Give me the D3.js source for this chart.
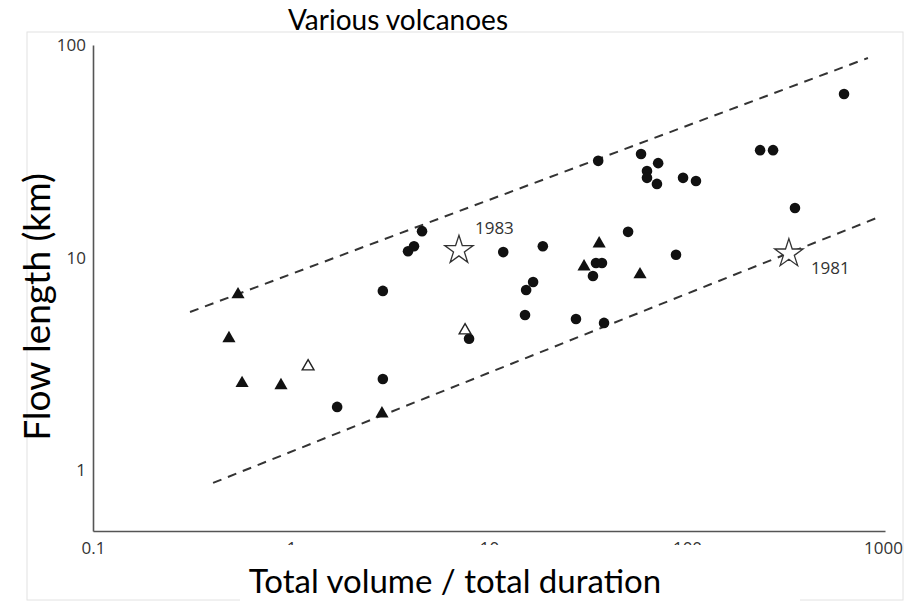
<!DOCTYPE html>
<html>
<head>
<meta charset="utf-8">
<script src="https://cdn.jsdelivr.net/npm/d3@7"></script>
<style>
  html, body { margin: 0; padding: 0; background: #fff; }
  svg { display: block; }
</style>
</head>
<body>
<svg id="chart" width="906" height="602"></svg>
<script>
// ---- data ----
const xTickValues = [0.1, 1, 10, 100, 1000];
const yTickValues = [1, 10, 100];

// filled circles: [volume rate, flow length]
const circlePoints = [
  [1.71, 1.98], [2.91, 2.68], [2.91, 6.96], [3.90, 10.7], [4.18, 11.3],
  [4.59, 13.3], [7.93, 4.15], [11.8, 10.6], [18.7, 11.3], [16.7, 7.67],
  [15.4, 7.03], [15.2, 5.36], [27.5, 5.13], [38.1, 4.92], [33.5, 8.18],
  [34.7, 9.42], [37.2, 9.42], [50.4, 13.2], [35.6, 28.5], [58.6, 30.7],
  [71.5, 27.8], [62.8, 25.5], [62.8, 23.7], [70.5, 22.2], [95.5, 23.7],
  [111, 22.9], [88, 10.3], [234, 32], [272, 32], [351, 17.1], [621, 58.8]
];
// filled triangles
const filledTriangles = [
  [0.54, 6.8], [0.486, 4.23], [0.566, 2.6], [0.89, 2.54], [2.88, 1.87],
  [30.2, 9.2], [36.0, 11.8], [57.9, 8.45]
];
// open triangles
const openTriangles = [[1.22, 3.12], [7.57, 4.61]];
// stars with year labels
const starPoints = [[7.05, 11.0], [327, 10.6]];
const starLabels = ["1983", "1981"];
// dashed envelope lines
const upperLine = [[0.309, 5.54], [820, 86.9]];
const lowerLine = [[0.404, 0.869], [933, 15.5]];

const titleText = "Various volcanoes";
const xTitle = "Total volume / total duration";
const yTitle = "Flow length (km)";

// ---- drawing ----
const svg = d3.select("#chart");
const x = d3.scaleLog().domain([0.1, 1000]).range([93, 885]);
const y = d3.scaleLog().domain([0.516, 100]).range([531, 45]);

// faint frame of the original figure
svg.append("rect").attr("x", 27).attr("y", 32).attr("width", 876).attr("height", 568)
  .attr("fill", "none").attr("stroke", "#e2e2e2").attr("stroke-width", 1);

// title
svg.append("text").attr("x", 398).attr("y", 30).attr("text-anchor", "middle")
  .attr("font-family", "Lato, 'Open Sans', sans-serif").attr("font-size", 28)
  .attr("fill", "#000").text(titleText);

// axes
const fmt = d => String(d);
const xAxis = svg.append("g").attr("transform", "translate(0,531)")
  .call(d3.axisBottom(x).tickValues(xTickValues).tickFormat(fmt).tickSize(0).tickSizeOuter(0).tickPadding(0));
const yAxis = svg.append("g").attr("transform", "translate(93,0)")
  .call(d3.axisLeft(y).tickValues(yTickValues).tickFormat(fmt).tickSize(0).tickSizeOuter(0).tickPadding(7));
[xAxis, yAxis].forEach(g => {
  g.select(".domain").attr("stroke", "#555").attr("stroke-width", 1.6);
  g.selectAll("text").attr("font-family", "'Open Sans', 'Noto Sans', sans-serif")
    .attr("font-size", 17).attr("fill", "#333");
});
xAxis.selectAll("text").attr("y", 17).attr("dy", "0.35em");
yAxis.selectAll("text").attr("dy", "0.35em");
xAxis.selectAll(".tick text").filter(d => d === 1000).attr("dx", -2);

// dashed envelope lines
const line = d3.line().x(d => x(d[0])).y(d => y(d[1]));
[upperLine, lowerLine].forEach(l => {
  svg.append("path").datum(l).attr("d", line).attr("fill", "none")
    .attr("stroke", "#333").attr("stroke-width", 2).attr("stroke-dasharray", "9,7");
});

// circles
svg.append("g").selectAll("circle").data(circlePoints).join("circle")
  .attr("cx", d => x(d[0])).attr("cy", d => y(d[1])).attr("r", 5.3).attr("fill", "#111");

// triangles
const tri = d3.symbol().type(d3.symbolTriangle).size(75);
svg.append("g").selectAll("path").data(filledTriangles).join("path")
  .attr("d", tri).attr("transform", d => `translate(${x(d[0])},${y(d[1]) + 1.5})`)
  .attr("fill", "#111");
const triOpen = d3.symbol().type(d3.symbolTriangle).size(60);
svg.append("g").selectAll("path").data(openTriangles).join("path")
  .attr("d", triOpen).attr("transform", d => `translate(${x(d[0])},${y(d[1]) + 1.5})`)
  .attr("fill", "#fff").attr("stroke", "#222").attr("stroke-width", 1.4);

// stars
const star = d3.symbol().type(d3.symbolStar).size(250);
svg.append("g").selectAll("path").data(starPoints).join("path")
  .attr("d", star).attr("transform", d => `translate(${x(d[0])},${y(d[1]) + 1.5})`)
  .attr("fill", "#fff").attr("stroke", "#333").attr("stroke-width", 1.3);
const labelOffsets = [[16, -15], [22, 22]];
svg.append("g").selectAll("text").data(starPoints).join("text")
  .attr("x", (d, i) => x(d[0]) + labelOffsets[i][0])
  .attr("y", (d, i) => y(d[1]) + labelOffsets[i][1])
  .attr("font-family", "'Open Sans', 'Noto Sans', sans-serif").attr("font-size", 17)
  .attr("fill", "#333").text((d, i) => starLabels[i]);

// white box behind the x-axis title (covers parts of the tick labels)
svg.append("rect").attr("x", 240).attr("y", 545).attr("width", 560).attr("height", 57).attr("fill", "#fff");
svg.append("text").attr("x", 455).attr("y", 593).attr("text-anchor", "middle")
  .attr("font-family", "Lato, 'Open Sans', sans-serif").attr("font-size", 33)
  .attr("fill", "#000").text(xTitle);

// y-axis title
svg.append("text").attr("transform", "translate(50,307) rotate(-90)").attr("text-anchor", "middle")
  .attr("font-family", "Lato, 'Open Sans', sans-serif").attr("font-size", 37)
  .attr("fill", "#000").text(yTitle);
</script>
</body>
</html>
